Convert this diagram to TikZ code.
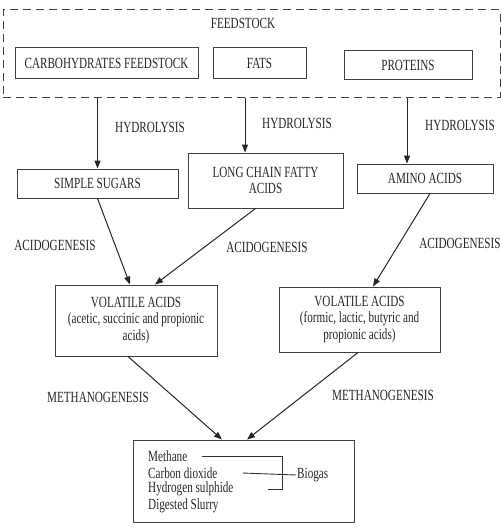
\documentclass[tikz,border=0pt]{standalone}
\usepackage{fontspec}
\setmainfont[FakeStretch=0.72]{Liberation Serif}
\usetikzlibrary{arrows.meta}

\begin{document}
\begin{tikzpicture}[x=1pt,y=-1pt,
    every node/.style={font=\fontsize{15.5}{16.5}\selectfont, text=black!85},
    stage/.style={draw=black!75, line width=1pt, align=center, inner sep=1pt},
    step label/.style={inner sep=0pt},
    flow/.style={draw=black!85, line width=1pt, -{Triangle[length=8pt,width=6pt]}}]
  \useasboundingbox (0,0) rectangle (502,527);
  % feedstock group
  \node[stage, dash pattern=on 8pt off 5pt, minimum width=497, minimum height=87] (feed) at (251.5,53.5) {};
  \node (feedtitle) at (243,23) {FEEDSTOCK};
  \node[stage, minimum width=183, minimum height=30] (carb) at (106.5,63) {CARBOHYDRATES FEEDSTOCK};
  \node[stage, minimum width=93, minimum height=30] (fats) at (259.5,63) {FATS};
  \node[stage, minimum width=128, minimum height=28] (prot) at (408,65) {PROTEINS};
  % hydrolysis products
  \node[stage, minimum width=161, minimum height=29] (sugars) at (97.5,183.5) {SIMPLE SUGARS};
  \node[stage, minimum width=155, minimum height=55] (lcfa) at (265.5,180.5) {LONG CHAIN FATTY\\ACIDS};
  \node[stage, minimum width=136, minimum height=29] (amino) at (425,178.5) {AMINO ACIDS};
  % acidogenesis products
  \node[stage, minimum width=162, minimum height=71] (vaone) at (136,320.5)
    {VOLATILE ACIDS\\(acetic, succinic and propionic\\acids)};
  \node[stage, minimum width=161, minimum height=65] (vatwo) at (359.5,319.5)
    {VOLATILE ACIDS\\(formic, lactic, butyric and\\propionic acids)};
  % end products
  \node[stage, minimum width=221, minimum height=82] (gas) at (243.5,481) {};
  \node[anchor=west, inner sep=0pt] (methane) at (148,456) {Methane};
  \node[anchor=west, inner sep=0pt] (cotwo) at (148,473) {Carbon dioxide};
  \node[anchor=west, inner sep=0pt] (htwos) at (148,489) {Hydrogen sulphide};
  \node[anchor=west, inner sep=0pt] (slurry) at (148,506) {Digested Slurry};
  \node[anchor=west, inner sep=1pt] (biogas) at (296,475) {Biogas};
  \coordinate (brk) at (282,0);
  \draw[black!80, line width=0.9pt] ([xshift=15pt]methane.east) -| (brk |- htwos.east) -- ([xshift=34pt]htwos.east);
  \draw[black!80, line width=0.9pt] ([xshift=25pt]cotwo.east) -- (biogas.west);
  % stage labels
  \node[step label] (hydone) at (150,127) {HYDROLYSIS};
  \node[step label] (hydtwo) at (297,123) {HYDROLYSIS};
  \node[step label] (hydthree) at (460,125) {HYDROLYSIS};
  \node[step label] (acidone) at (55,245) {ACIDOGENESIS};
  \node[step label] (acidtwo) at (267,247) {ACIDOGENESIS};
  \node[step label] (acidthree) at (460,243) {ACIDOGENESIS};
  \node[step label] (methone) at (98,397) {METHANOGENESIS};
  \node[step label] (methtwo) at (383,395) {METHANOGENESIS};
  % arrows
  \draw[flow] (sugars.north |- feed.south) -- (sugars.north);
  \draw[flow] ([xshift=-20.5pt]lcfa.north |- feed.south) -- ([xshift=-20.5pt]lcfa.north);
  \draw[flow] ([xshift=-18pt]amino.north |- feed.south) -- ([xshift=-18pt]amino.north);
  \draw[flow] (sugars.south) -- ([xshift=-6pt]vaone.north);
  \draw[flow] ([xshift=-10pt]lcfa.south) -- ([xshift=19pt]vaone.north);
  \draw[flow] ([xshift=5pt]amino.south) -- ([xshift=13.5pt]vatwo.north);
  \draw[flow] ([xshift=-8pt]vaone.south) -- ([xshift=-21.5pt]gas.north);
  \draw[flow] ([xshift=-1.5pt]vatwo.south) -- ([xshift=3.5pt]gas.north);
\end{tikzpicture}
\end{document}
